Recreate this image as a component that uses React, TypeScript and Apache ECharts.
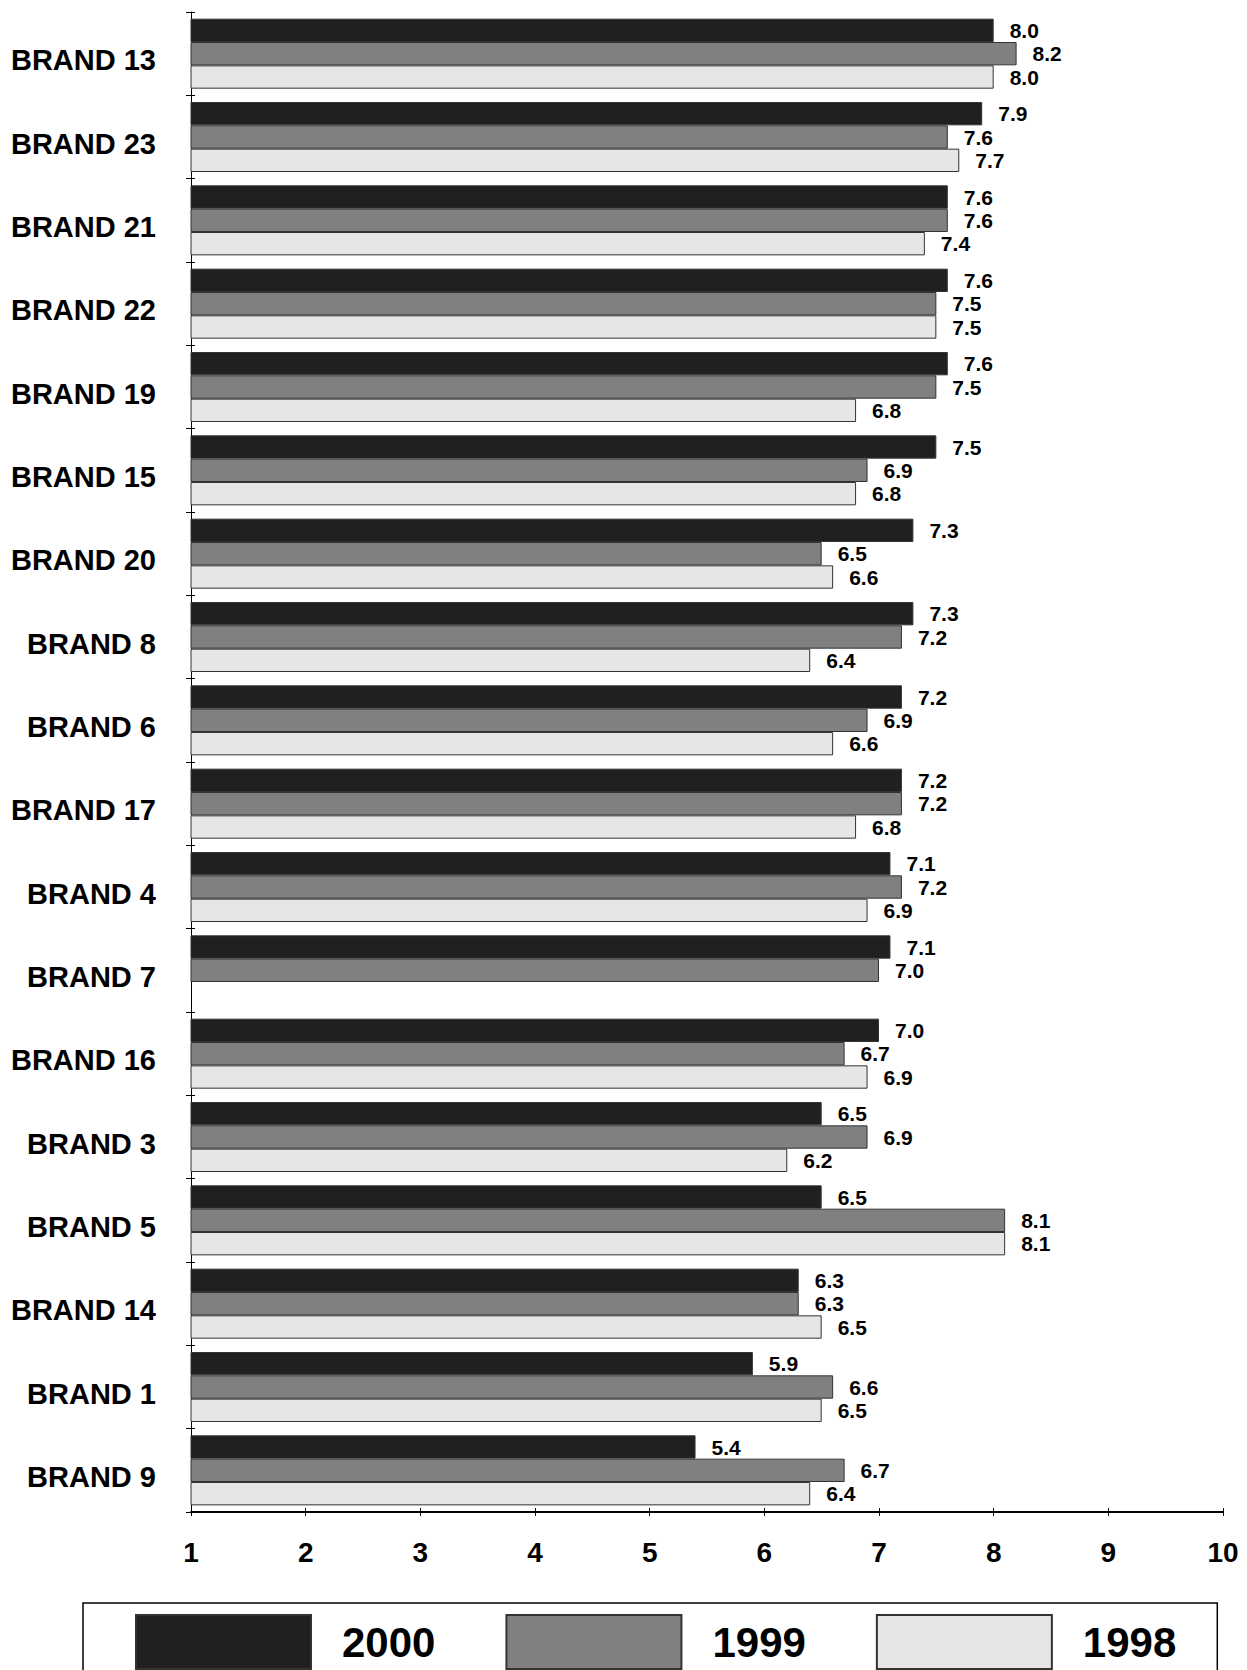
import React, { useEffect, useRef } from "react";
import * as echarts from "echarts";

const categories = [
  "BRAND 13", "BRAND 23", "BRAND 21", "BRAND 22", "BRAND 19", "BRAND 15",
  "BRAND 20", "BRAND 8", "BRAND 6", "BRAND 17", "BRAND 4", "BRAND 7",
  "BRAND 16", "BRAND 3", "BRAND 5", "BRAND 14", "BRAND 1", "BRAND 9",
];
const values2000 = [8.0, 7.9, 7.6, 7.6, 7.6, 7.5, 7.3, 7.3, 7.2, 7.2, 7.1, 7.1, 7.0, 6.5, 6.5, 6.3, 5.9, 5.4];
const values1999 = [8.2, 7.6, 7.6, 7.5, 7.5, 6.9, 6.5, 7.2, 6.9, 7.2, 7.2, 7.0, 6.7, 6.9, 8.1, 6.3, 6.6, 6.7];
const values1998: (number | null)[] = [8.0, 7.7, 7.4, 7.5, 6.8, 6.8, 6.6, 6.4, 6.6, 6.8, 6.9, null, 6.9, 6.2, 8.1, 6.5, 6.5, 6.4];
const seriesNames = ["2000", "1999", "1998"];
const xMin = 1;
const xMax = 10;
const xInterval = 1;

const FONT = "'Liberation Sans', Arial, sans-serif";

export default function App() {
  const ref = useRef<HTMLDivElement>(null);
  useEffect(() => {
    document.body.style.margin = "0";
    if (!ref.current) return;
    const chart = echarts.init(ref.current, undefined, { renderer: "svg" });
    const colors = ["#202020", "#808080", "#e6e6e6"];
    const data = [values2000, values1999, values1998];
    const mkSeries = (i: number) => ({
      name: seriesNames[i],
      type: "bar",
      data: data[i],
      xAxisIndex: 0,
      yAxisIndex: 0,
      barGap: "0%",
      barCategoryGap: "16%",
      itemStyle: { color: colors[i], borderColor: "#333", borderWidth: 1 },
      label: {
        show: true,
        position: "right",
        distance: 16,
        fontFamily: FONT,
        fontWeight: "bold",
        fontSize: 21,
        color: "#000",
        formatter: (p: any) => (p.value == null ? "" : Number(p.value).toFixed(1)),
      },
    });
    chart.setOption({
      animation: false,
      backgroundColor: "#fff",
      textStyle: { fontFamily: FONT },
      grid: { left: 191, right: 24, top: 12, bottom: 158, containLabel: false },
      legend: {
        left: 83,
        top: 1603,
        orient: "horizontal",
        data: seriesNames,
        itemWidth: 175,
        itemHeight: 54,
        itemGap: 70,
        padding: [11, 41, 11, 52],
        borderColor: "#000",
        borderWidth: 1.5,
        icon: "rect",
        textStyle: {
          fontFamily: FONT,
          fontWeight: "bold",
          fontSize: 42,
          color: "#000",
          padding: [0, 0, 0, 26],
        },
      },
      xAxis: [
        {
          type: "value",
          min: xMin,
          max: xMax,
          interval: xInterval,
          position: "bottom",
          splitLine: { show: false },
          axisLine: { show: true, lineStyle: { color: "#000", width: 2 } },
          axisTick: { show: true, length: 4, lineStyle: { color: "#000", width: 1 } },
          axisLabel: {
            margin: 26,
            fontFamily: FONT,
            fontWeight: "bold",
            fontSize: 28,
            color: "#000",
          },
        },
        {
          type: "value",
          min: xMin,
          max: xMax,
          interval: xInterval,
          position: "bottom",
          splitLine: { show: false },
          axisLine: { show: false },
          axisTick: { show: true, inside: true, length: 4, lineStyle: { color: "#000", width: 1 } },
          axisLabel: { show: false },
        },
      ],
      yAxis: [
        {
          type: "category",
          data: categories,
          inverse: true,
          position: "left",
          axisLine: { show: true, lineStyle: { color: "#000", width: 1 } },
          axisTick: { show: true, length: 5, lineStyle: { color: "#000", width: 1 } },
          axisLabel: {
            margin: 35,
            fontFamily: FONT,
            fontWeight: "bold",
            fontSize: 29,
            color: "#000",
            verticalAlign: "top",
            lineHeight: 13,
          },
        },
        {
          type: "category",
          data: categories,
          inverse: true,
          position: "left",
          axisLine: { show: false },
          axisTick: { show: true, inside: true, length: 4, lineStyle: { color: "#000", width: 1 } },
          axisLabel: { show: false },
        },
      ],
      series: [mkSeries(0), mkSeries(1), mkSeries(2)],
    });
    return () => chart.dispose();
  }, []);
  return <div ref={ref} style={{ width: 1247, height: 1670 }} />;
}
